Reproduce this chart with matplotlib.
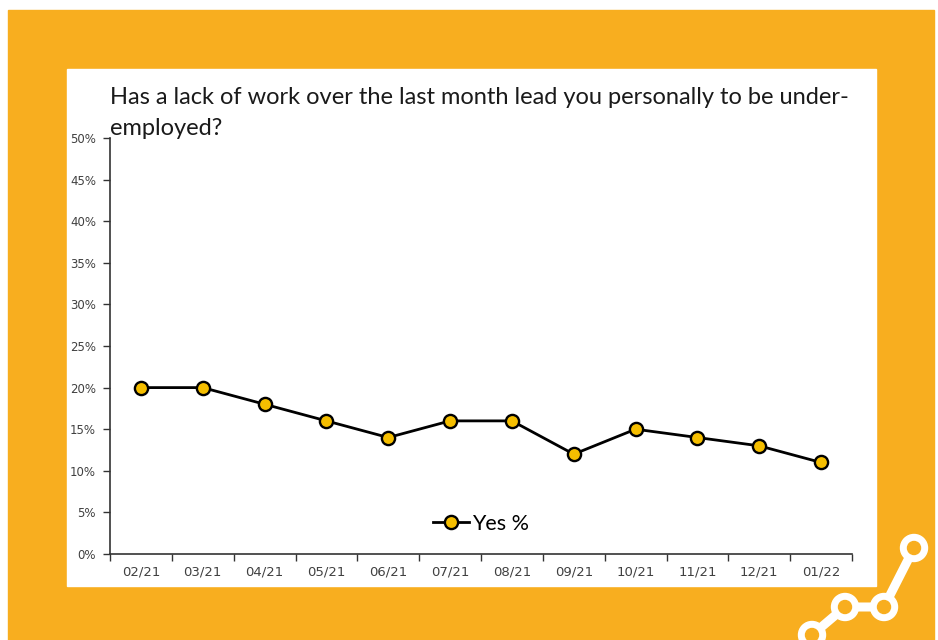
import matplotlib
matplotlib.use('Agg')
import matplotlib.pyplot as plt
from matplotlib.patches import Rectangle, Circle
from matplotlib.ticker import PercentFormatter, FixedLocator, MultipleLocator

# Data
months = ['02/21', '03/21', '04/21', '05/21', '06/21', '07/21',
          '08/21', '09/21', '10/21', '11/21', '12/21', '01/22']
yes_pct = [20, 20, 18, 16, 14, 16, 16, 12, 15, 14, 13, 11]
title = 'Has a lack of work over the last month lead you personally to be under-\nemployed?'

orange = '#F8AE1F'
W, H = 938, 640

fig = plt.figure(figsize=(W / 100, H / 100), dpi=100)
fig.patch.set_facecolor('white')

# background frame
bg = fig.add_axes([0, 0, 1, 1])
bg.set_xlim(0, W)
bg.set_ylim(H, 0)
bg.axis('off')
bg.add_patch(Rectangle((8, 10), 926, 630, color=orange))
bg.add_patch(Rectangle((67, 69), 809, 517, color='white'))

# decorative icon bottom right
icon_x = [812, 845, 884, 914]
icon_y = [635, 607, 607, 548]
bg.plot(icon_x, icon_y, color='white', lw=6.5, solid_capstyle='round', zorder=2)
for cx, cy in zip(icon_x, icon_y):
    bg.add_patch(Circle((cx, cy), 13.5, color='white', zorder=3))
    bg.add_patch(Circle((cx, cy), 6.5, color=orange, zorder=4))

# title, one line at a time
for i, line in enumerate(title.split('\n')):
    fig.text(110 / W, 1 - (104 + 31 * i) / H, line, fontsize=17, family='Lato',
             color='#1a1a1a', va='baseline', ha='left')

# chart axes
ax = fig.add_axes([110 / W, 1 - 554 / H, 742 / W, 416 / H])
ax.set_facecolor('none')
x = list(range(len(months)))
ax.plot(x, yes_pct, color='black', lw=2, marker='o', markersize=9.5,
        markerfacecolor='#F5BE00', markeredgecolor='black', markeredgewidth=1.7,
        label='Yes %', clip_on=False, zorder=3)

ax.set_xlim(-0.5, len(months) - 0.5)
ax.set_ylim(0, 50)
ax.yaxis.set_major_locator(MultipleLocator(5))
ax.yaxis.set_major_formatter(PercentFormatter(decimals=0))
ax.xaxis.set_major_locator(FixedLocator([i - 0.5 for i in range(len(months) + 1)]))
ax.xaxis.set_major_formatter(plt.NullFormatter())
ax.xaxis.set_minor_locator(FixedLocator(x))
ax.set_xticklabels(months, minor=True)
ax.tick_params(axis='x', which='minor', length=0, pad=8, labelsize=9.5, labelcolor='#404040')
ax.tick_params(axis='x', which='major', length=5, width=1, color='#333333')
ax.tick_params(axis='y', length=5, width=1, color='#333333', labelsize=8.5,
               labelcolor='#404040', pad=5)
for s in ['top', 'right']:
    ax.spines[s].set_visible(False)
for s in ['left', 'bottom']:
    ax.spines[s].set_color('#333333')
    ax.spines[s].set_linewidth(1.2)

leg = ax.legend(loc='center', bbox_to_anchor=(0.5, 30 / 416), frameon=False,
                prop={'family': 'Lato', 'size': 15.5}, handlelength=1.7,
                handletextpad=0.15)

fig.savefig('out.png', dpi=100, facecolor=fig.get_facecolor())
